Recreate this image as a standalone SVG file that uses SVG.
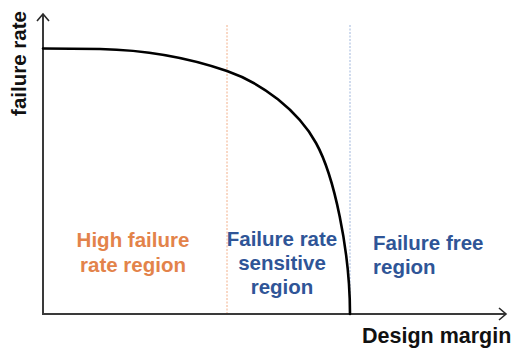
<svg xmlns="http://www.w3.org/2000/svg" width="512" height="358" viewBox="0 0 512 358">
<style>
.axis{fill:none;stroke:#3a3a3a;stroke-width:2}
.curve{fill:none;stroke:#000;stroke-width:2.6;stroke-linecap:round}
.lbl{font-family:"Liberation Sans",Arial,sans-serif;font-weight:bold;font-size:20.5px}
.orange{fill:#E3834A}
.blue{fill:#2F5597}
.black{fill:#111}
</style>
<defs>
<marker id="arr" markerWidth="10" markerHeight="14" refX="8" refY="7" orient="auto" markerUnits="userSpaceOnUse">
<path d="M1,1 L8,7 L1,13" fill="none" stroke="#2a2a2a" stroke-width="1.6"/>
</marker>
</defs>
<g id="connectors">
<path class="axis" d="M43,315 L43,14" marker-end="url(#arr)"/>
<path class="axis" d="M42,314 L506,314" marker-end="url(#arr)"/>
<line x1="227" y1="25" x2="227" y2="313" stroke="#F2B08A" stroke-width="1" stroke-dasharray="2 1.5"/>
<line x1="350" y1="25" x2="350" y2="313" stroke="#9FB6DC" stroke-width="1" stroke-dasharray="2 1.5"/>
<path class="curve" d="M43,48.5 L100,49 C150,50 195,60 227,71 C262,83 298,110.6 316,143 C334,175.4 350,250 350,314"/>
</g>
<g id="y-label"><text class="lbl black" transform="translate(26,63.5) rotate(-90)" text-anchor="middle">failure rate</text></g>
<g id="x-label"><text class="lbl black" x="362" y="343" style="font-size:21.5px">Design margin</text></g>
<g id="high-region"><text class="lbl orange" text-anchor="middle"><tspan x="133" y="247">High failure</tspan><tspan x="133" y="272">rate region</tspan></text></g>
<g id="sensitive-region"><text class="lbl blue" text-anchor="middle"><tspan x="282" y="246">Failure rate</tspan><tspan x="282" y="270">sensitive</tspan><tspan x="282" y="294">region</tspan></text></g>
<g id="free-region"><text class="lbl blue"><tspan x="373" y="250">Failure free</tspan><tspan x="373" y="274">region</tspan></text></g>
</svg>
